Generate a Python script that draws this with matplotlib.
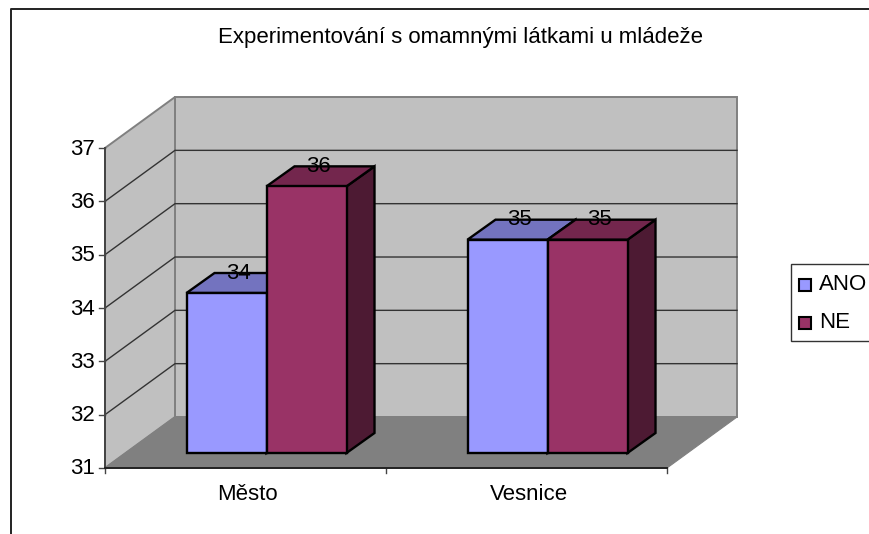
import matplotlib
matplotlib.use('Agg')
import matplotlib.pyplot as plt
from matplotlib.patches import Polygon, Rectangle

categories = ['Město', 'Vesnice']
ano = [34, 35]
ne = [36, 35]
y_ticks = [31, 32, 33, 34, 35, 36, 37]
series_names = ['ANO', 'NE']
title = 'Experimentování s omamnými látkami u mládeže'

plt.rcParams['font.family'] = ['Liberation Sans', 'DejaVu Sans']

# layout in image pixels, the old 3d chart is just a projection
X0, X1 = 105, 667
Y31, UNIT = 468, 53.33
DX, DY = 70, -51
BAR_W = 80
BAR_DX, BAR_DY = 28, -20
BAR_SHIFT, BAR_BASE = 21, 453
FS = 16


def val_y(v):
    return Y31 - (v - y_ticks[0]) * UNIT


def shade(c, f):
    return tuple(f * x for x in matplotlib.colors.to_rgb(c))


def draw_bar(ax, x, v, color):
    top = BAR_BASE - (v - y_ticks[0]) * UNIT
    ax.add_patch(Polygon([(x + BAR_W, BAR_BASE), (x + BAR_W + BAR_DX, BAR_BASE + BAR_DY),
                          (x + BAR_W + BAR_DX, top + BAR_DY), (x + BAR_W, top)],
                         fc=shade(color, 0.5), ec='black', lw=1.7, zorder=4))
    ax.add_patch(Polygon([(x, top), (x + BAR_DX, top + BAR_DY),
                          (x + BAR_W + BAR_DX, top + BAR_DY), (x + BAR_W, top)],
                         fc=shade(color, 0.75), ec='black', lw=1.7, zorder=4))
    ax.add_patch(Rectangle((x, top), BAR_W, BAR_BASE - top, fc=color, ec='black', lw=1.7, zorder=4))
    ax.text(x + BAR_W / 2 + 12, top - 20, str(v), ha='center', va='center', fontsize=FS, color='black', zorder=6)


def main():
    fig = plt.figure(figsize=(8.69, 5.34), dpi=100)
    ax = fig.add_axes([0, 0, 1, 1])
    ax.set_xlim(0, 869)
    ax.set_ylim(534, 0)
    ax.axis('off')

    # outer chart frame, only top and left are visible
    ax.plot([869, 11, 11], [9, 9, 534], color='#222222', lw=1.4)

    ytop, ybot = val_y(y_ticks[-1]), val_y(y_ticks[0])
    wall = '#c0c0c0'
    edge = '#808080'
    ax.add_patch(Polygon([(X0 + DX, ytop + DY), (X1 + DX, ytop + DY), (X1 + DX, ybot + DY), (X0 + DX, ybot + DY)],
                         fc=wall, ec=edge, lw=1.4))
    ax.add_patch(Polygon([(X0, ytop), (X0 + DX, ytop + DY), (X0 + DX, ybot + DY), (X0, ybot)],
                         fc=wall, ec=edge, lw=1.4))
    ax.add_patch(Polygon([(X0, ybot), (X0 + DX, ybot + DY), (X1 + DX, ybot + DY), (X1, ybot)],
                         fc=edge, ec=edge, lw=0.8))

    for v in y_ticks[1:-1]:
        y = val_y(v)
        ax.plot([X0, X0 + DX, X1 + DX], [y, y + DY, y + DY], color='#333333', lw=1.0)

    # axes
    ax.plot([X0, X0], [ytop, ybot], color='#444444', lw=1.4, zorder=3)
    ax.plot([X0, X1], [ybot, ybot], color='#222222', lw=1.4, zorder=3)
    for v in y_ticks:
        y = val_y(v)
        ax.plot([X0 - 6, X0], [y, y], color='#444444', lw=1.0)
        ax.text(X0 - 10, y + 1, str(v), ha='right', va='center', fontsize=FS, color='black')
    step = (X1 - X0) / len(categories)
    for i in range(len(categories) + 1):
        ax.plot([X0 + i * step] * 2, [ybot, ybot + 5], color='#444444', lw=1.0)

    colors = ['#9999ff', '#993366']
    for i, name in enumerate(categories):
        cx = X0 + (i + 0.5) * step
        ax.text(cx + 2, 495, name, ha='center', va='center', fontsize=FS, color='black')
        left = cx + BAR_SHIFT - BAR_W
        draw_bar(ax, left, ano[i], colors[0])
        draw_bar(ax, left + BAR_W, ne[i], colors[1])

    ax.text(461, 38, title, ha='center', va='center', fontsize=FS, color='black')

    # legend
    ax.add_patch(Rectangle((791, 264), 80, 77, fc='white', ec='#333333', lw=1.0, zorder=5))
    for name, color, ym in zip(series_names, colors, [285, 323]):
        ax.add_patch(Rectangle((799, ym - 6), 12, 12, fc=color, ec='black', lw=1.5, zorder=6))
        ax.text(819, ym - 1, name, ha='left', va='center', fontsize=FS, color='black', zorder=6)

    fig.savefig('out.png', dpi=100)


if __name__ == '__main__':
    main()
